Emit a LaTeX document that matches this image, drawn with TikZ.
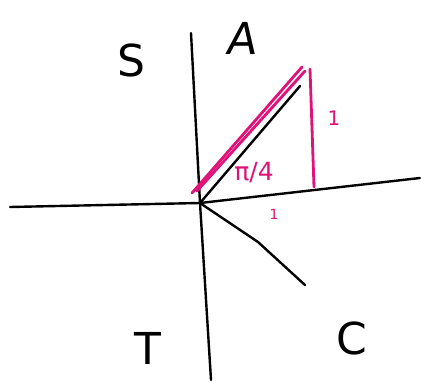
\documentclass[tikz,border=0pt]{standalone}
\usepackage{fontspec}
\setmainfont{DejaVu Sans}
\usetikzlibrary{positioning}
\definecolor{inkpink}{RGB}{222,18,120}
\tikzset{
  ink/.style={line width=2.4pt, line cap=round, line join=round, black},
  pinkink/.style={line width=2.8pt, line cap=round, line join=round, inkpink},
  quad/.style={font=\fontsize{44}{44}\selectfont, inner sep=0pt},
  pinklabel/.style={text=inkpink, inner sep=0pt}
}

\begin{document}
\begin{tikzpicture}[x=1pt, y=-1pt]
        \useasboundingbox (0,0) rectangle (421,381);
        % axes
        \coordinate (O) at (200,203);
        \coordinate (xl) at (10,207);
        \coordinate (xr) at (420,178);
        \coordinate (yt) at (191,33);
        \coordinate (yb) at (211,380);
        \draw[ink] (xl) -- (O) -- (xr);
        \draw[ink] (yt) -- (O) -- (yb);
        % rays
        \coordinate (tip) at (300,86);
        \coordinate (kink) at (258,242);
        \coordinate (low) at (305,285);
        \draw[ink] (O) -- (tip);
        \draw[ink] (O) -- (kink) -- (low);
        % triangle
        \coordinate (hypa) at (192,193);
        \coordinate (hypb) at (302,67);
        \coordinate (hypc) at (197,191);
        \coordinate (hypd) at (305,71);
        \coordinate (legt) at (310,69);
        \coordinate (legb) at (314,187);
        \draw[pinkink] (hypa) -- (hypb);
        \draw[pinkink] (hypc) -- (hypd);
        \draw[pinkink] (legt) -- (legb);
        % labels
        \node[quad] (S) at (131,60) {S};
        \node[quad, xslant=0.15] (A) at (243,38) {A};
        \node[quad] (T) at (148,348) {T};
        \node[quad] (C) at (352,338) {C};
        \node[pinklabel, font=\fontsize{25}{25}\selectfont] (ang) at (254,173) {π/4};
        \node[pinklabel, font=\fontsize{20}{20}\selectfont] (opp) at (334,118) {1};
        \node[pinklabel, font=\fontsize{14}{14}\selectfont] (adj) at (274,214) {1};
      \end{tikzpicture}
\end{document}
